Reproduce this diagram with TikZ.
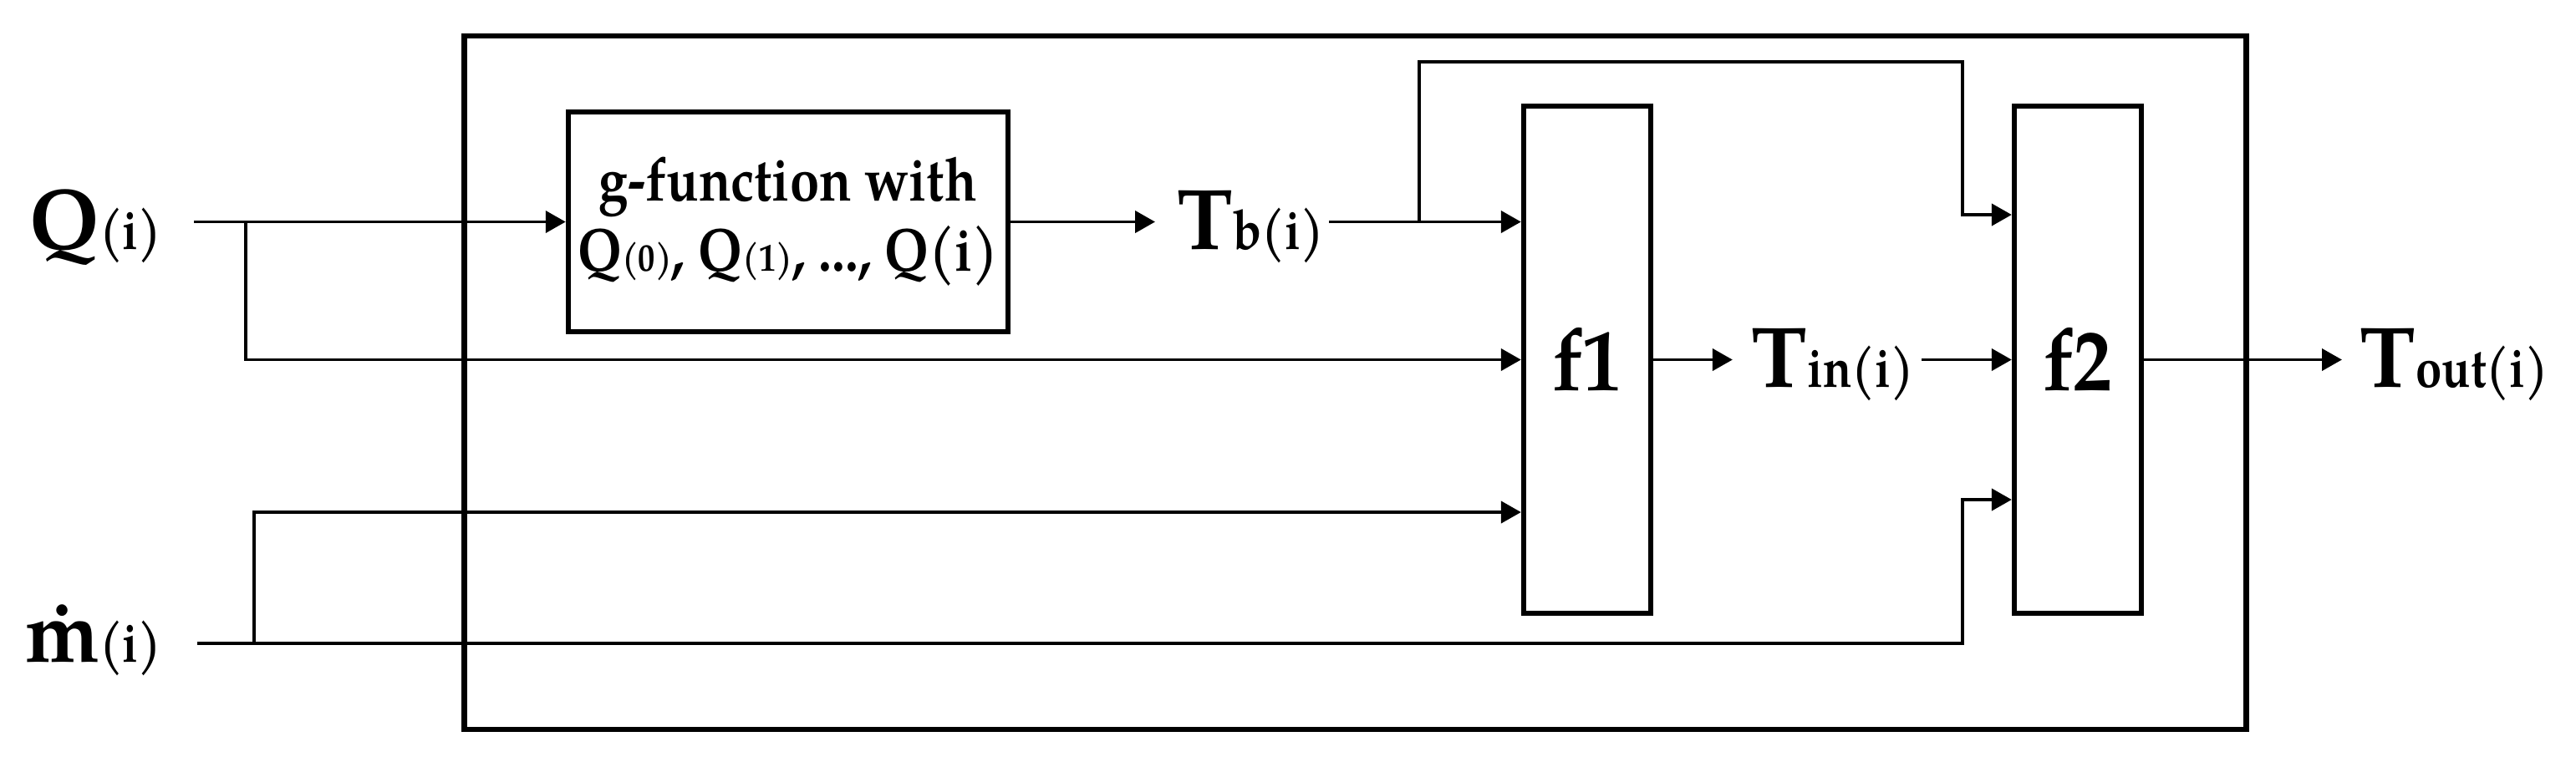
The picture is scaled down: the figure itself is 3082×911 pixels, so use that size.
\documentclass[tikz,border=0pt]{standalone}
\usepackage{fontspec}
\setmainfont{texgyrepagella}[Extension=.otf, UprightFont=*-regular, BoldFont=*-bold, ItalicFont=*-italic, BoldItalicFont=*-bolditalic]
\usetikzlibrary{arrows.meta}
\newcommand{\bigtxt}[2]{\scalebox{1}[1.03]{\fontsize{28.5}{30}\selectfont #1}\scalebox{1}[1.18]{\fontsize{16}{18}\selectfont #2}}
\newcommand{\gsub}[1]{{\fontsize{11.5}{12}\selectfont #1}}
\begin{document}
\begin{tikzpicture}[x=0.01cm,y=-0.01cm,
 conn/.style={line width=1.1pt, -{Triangle[length=6.8pt,width=7.4pt]}},
 bigbox/.style={draw, line width=1.8pt, inner sep=0pt},
 fbox/.style={draw, line width=1.8pt, minimum width=1.52cm, minimum height=6.07cm, inner sep=0pt, font=\bfseries\fontsize{26.5}{28}\selectfont},
 lab/.style={inner sep=0pt, font=\bfseries}]
\useasboundingbox (0,0) rectangle (3082,911);
% containers and blocks
\node[bigbox, minimum width=21.31cm, minimum height=8.30cm] (outer) at (1621.5,458) {};
\node[bigbox, minimum width=5.26cm, minimum height=2.63cm,
      font=\bfseries\fontsize{18}{20.8}\selectfont] (g) at (943,265.5)
      {\scalebox{1}[1.15]{\begin{tabular}{@{}c@{}}g-function with\\Q\gsub{(0)}, Q\gsub{(1)}, ..., Q(i)\end{tabular}}};
\node[fbox] (f1) at (1899,430.5) {\scalebox{1}[1.12]{f1}};
\node[fbox] (f2) at (2486,430.5) {\scalebox{1}[1.12]{f2}};
% labels
\node[lab, anchor=base east] (Q) at (194,298) {\bigtxt{Q}{(i)}};
\node[lab, anchor=base east] (m) at (194,792) {\bigtxt{\.{m}}{(i)}};
\node[lab, anchor=base west] (Tb) at (1408,298) {\bigtxt{T}{b(i)}};
\node[lab, anchor=base west] (Tin) at (2095,463) {\bigtxt{T}{in(i)}};
\node[lab, anchor=base west] (Tout) at (2823,463) {\bigtxt{T}{out(i)}};
% helper coordinates
\coordinate (r0) at (0,74);
\coordinate (r1) at (0,265.5);
\coordinate (r2) at (0,257);
\coordinate (r3) at (0,598);
\coordinate (r4) at (0,613);
\coordinate (r5) at (0,770);
\coordinate (mr) at (2348,0);
\coordinate (qs) at (232,265.5);
\coordinate (qb) at (294,265.5);
\coordinate (ms) at (236,770);
\coordinate (mb) at (304,770);
\coordinate (tbs) at (1590,265.5);
\coordinate (tbb) at (1698,265.5);
% connectors
\draw[conn] (qs) -- (g.west);
\draw[conn] (qb) |- (f1.west);
\draw[conn, shorten >=7.4pt] (g.east) -- (g.east -| Tb.west);
\draw[conn] (tbs) -- (f1.west |- r1);
\draw[conn] (tbb) |- (mr |- r0) -- (mr |- r2) -- (f2.west |- r2);
\draw[conn, shorten >=6.3pt] (f1.east) -- (f1.east -| Tin.west);
\draw[conn, shorten <=2.6pt] (Tin.east |- f2.west) -- (f2.west);
\draw[conn, shorten >=6pt] (f2.east) -- (f2.east -| Tout.west);
\draw[conn] (ms) -- (mr |- r5) -- (mr |- r3) -- (f2.west |- r3);
\draw[conn] (mb) |- (f1.west |- r4);
\end{tikzpicture}
\end{document}
